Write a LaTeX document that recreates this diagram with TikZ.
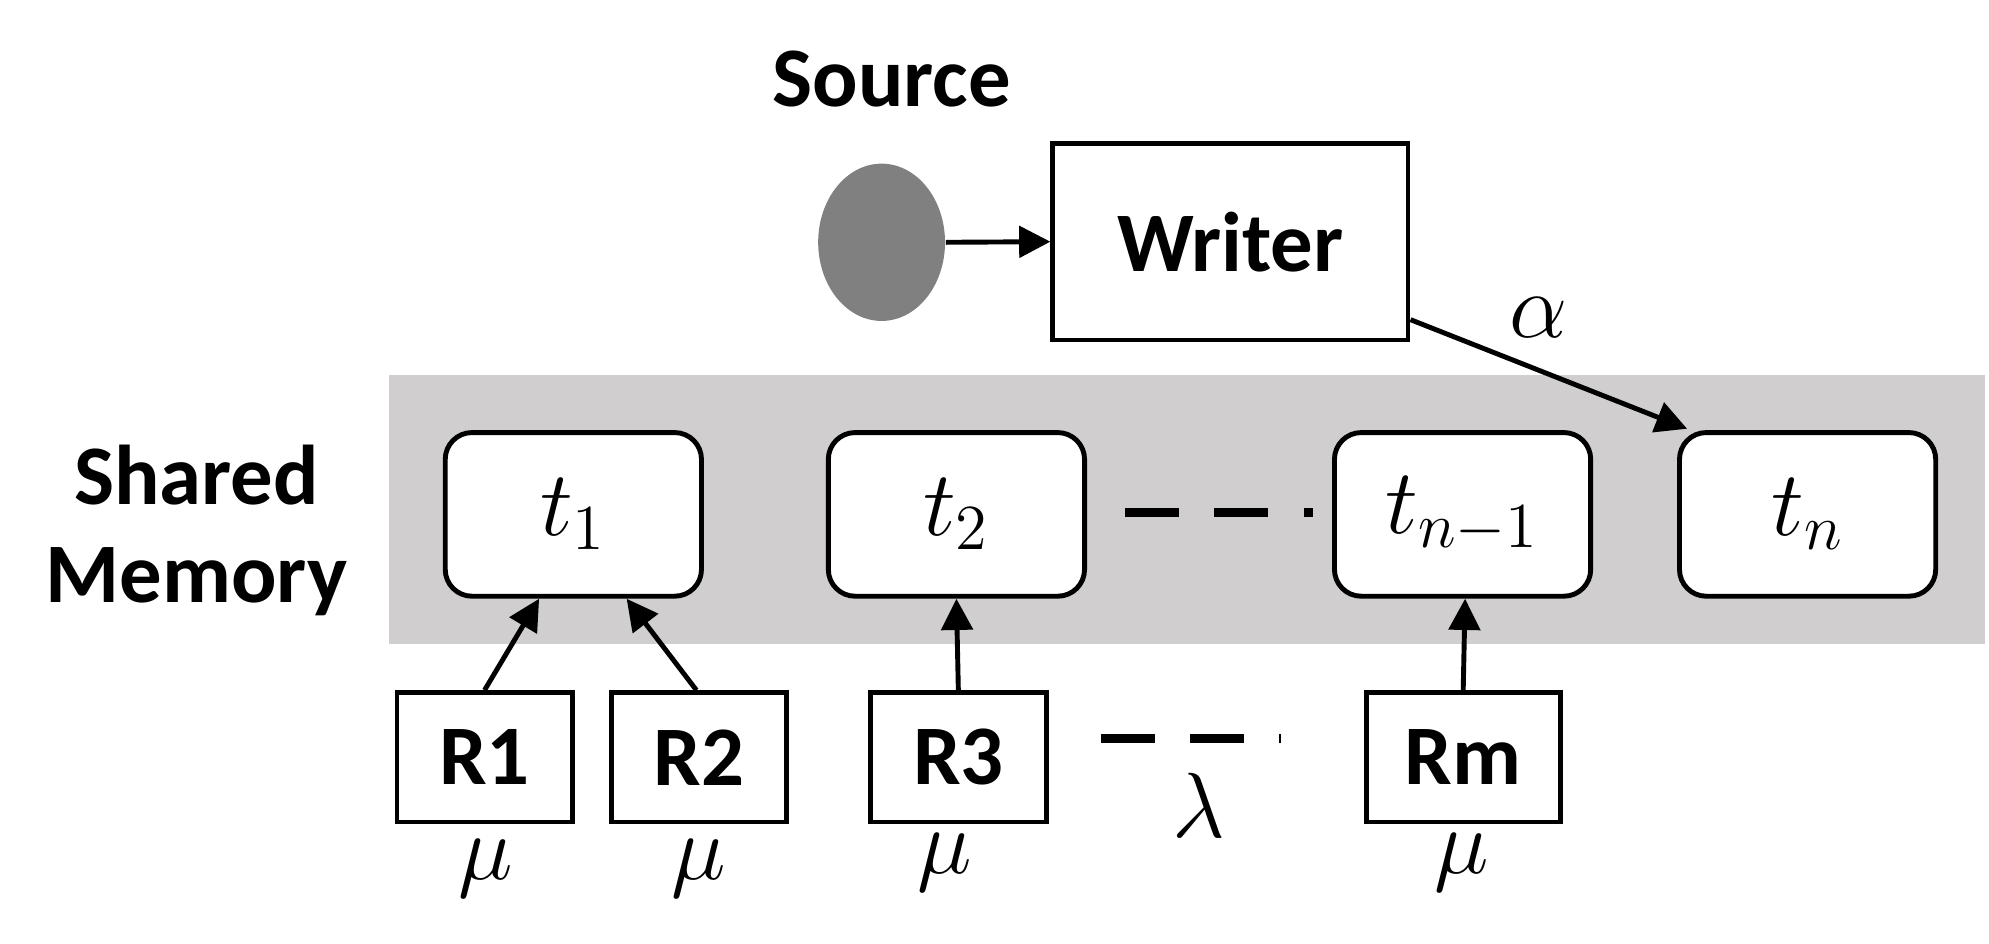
\documentclass[tikz,border=0pt]{standalone}
\usepackage{fontspec}
\setmainfont{Carlito}
\usetikzlibrary{arrows.meta,shapes.geometric}
\definecolor{band}{RGB}{208,206,207}
\definecolor{dot}{RGB}{128,128,128}
\begin{document}
\begin{tikzpicture}[x=0.01cm,y=-0.01cm,
  lw/.style={line width=1.1pt},
  tb/.style={draw,lw,fill=white,rounded corners=6pt,minimum width=202*0.01cm,minimum height=129*0.01cm,font=\fontsize{22}{24}\selectfont},
  rb/.style={draw,lw,fill=white,minimum height=102*0.01cm,font=\fontsize{19}{22}\selectfont\bfseries},
  bt/.style={font=\fontsize{19}{22}\selectfont\bfseries},
  ar/.style={lw,-{Triangle[length=7pt,width=7pt]}},
  dsh/.style={line width=2pt,dash pattern=on 12pt off 8pt},
  ml/.style={font=\fontsize{22}{24}\selectfont}]
\useasboundingbox (0,0) rectangle (1568,744);
\fill[band] (307,296) rectangle (1565,508);
\node[bt] (src) at (703,62) {Source};
\node[ellipse,fill=dot,minimum width=100*0.01cm,minimum height=124*0.01cm,inner sep=0pt] (e) at (695,191) {};
\node[rb,minimum width=280*0.01cm,minimum height=155*0.01cm] (w) at (970,190.5) {Writer};
\draw[ar] (e.east) -- (w.west);
\node[bt,align=center] (sm) at (155,418) {Shared\\Memory};
\node[tb] (t1) at (452,405.5) {$t_1$};
\node[tb] (t2) at (754,405.5) {$t_2$};
\node[tb] (tn1) at (1153,405.5) {$t_{n-1}$};
\node[tb] (tn) at (1425,405.5) {$t_n$};
\coordinate (wa) at (1112,252);
\coordinate (wb) at (1330,338);
\draw[ar] (wa) -- (wb);
\node[ml] (al) at (1213,250) {$\alpha$};
\draw[dsh] (887,404) -- (1035,404);
\node[rb,minimum width=138*0.01cm] (r1) at (382,597) {R1};
\node[rb,minimum width=138*0.01cm] (r2) at (551,597) {R2};
\node[rb,minimum width=139*0.01cm] (r3) at (755.5,597) {R3};
\node[rb,minimum width=153*0.01cm] (rm) at (1153.5,597) {Rm};
\draw[ar] (r1.north) -- (425,472);
\draw[ar] (r2.north) ++(-2,0) -- (494,472);
\draw[ar] (r3.north) -- (754,472);
\draw[ar] (rm.north) -- (1155,472);
\draw[dsh] (868,582) -- (1010,582);
\node[ml] (lam) at (945,635) {$\lambda$};
\node[ml] (m1) at (383,685) {$\mu$};
\node[ml] (m2) at (551,685) {$\mu$};
\node[ml] (m3) at (745,680) {$\mu$};
\node[ml] (m4) at (1152,680) {$\mu$};
\end{tikzpicture}
\end{document}
